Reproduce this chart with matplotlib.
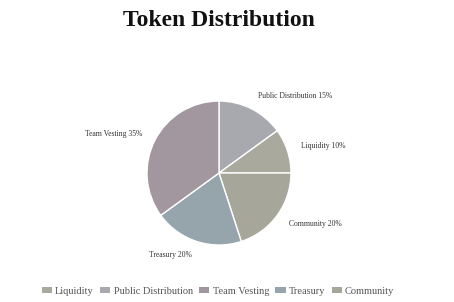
import matplotlib.pyplot as plt
import numpy as np
from matplotlib.patches import Patch

# slices in drawing order (clockwise from the top)
labels = ["Public Distribution", "Liquidity", "Community", "Treasury", "Team Vesting"]
shares = [15, 10, 20, 20, 35]
colors = ["#a8a9ae", "#a9a99d", "#a7a69a", "#95a5ab", "#a3979f"]

# legend order as shown under the chart
legend_order = ["Liquidity", "Public Distribution", "Team Vesting", "Treasury", "Community"]

W, H = 454, 302
fig = plt.figure(figsize=(W / 100, H / 100), dpi=100)
fig.patch.set_facecolor("white")

serif = ["Liberation Serif", "DejaVu Serif"]

# pie axes: centre (219,173) px, radius 72 px
cx, cy, r = 219, 173, 72
half = 1.5 * r
ax = fig.add_axes([(cx - half) / W, (H - cy - half) / H, 2 * half / W, 2 * half / H])

wedges, _ = ax.pie(shares, colors=colors, startangle=90, counterclock=False,
                   wedgeprops=dict(edgecolor="white", linewidth=1.0))
# pie() resets the limits, so set them afterwards
ax.set_xlim(-1.5, 1.5)
ax.set_ylim(-1.5, 1.5)
ax.set_aspect("equal")
ax.axis("off")

for w, lab, s in zip(wedges, labels, shares):
    ang = np.deg2rad((w.theta1 + w.theta2) / 2)
    x, y = 1.2 * np.cos(ang), 1.2 * np.sin(ang)
    ha = "left" if x > 0 else "right"
    ax.text(x, y, f"{lab} {s}%", ha=ha, va="center", fontsize=5.5,
            color="#333333", family=serif)

fig.text(cx / W, 1 - 21 / H, "Token Distribution", ha="center", va="center",
         fontsize=17, fontweight="bold", color="#111111", family=serif)

handles = [Patch(facecolor=colors[labels.index(n)], edgecolor="none") for n in legend_order]
leg = fig.legend(handles, legend_order, loc="center", bbox_to_anchor=(218 / W, 1 - 291 / H),
                 ncol=5, frameon=False, handlelength=1.0, handleheight=0.55,
                 handletextpad=0.3, columnspacing=0.6, borderaxespad=0,
                 prop=dict(family=serif, size=7.5))
for t in leg.get_texts():
    t.set_color("#555555")

fig.savefig("out.png", dpi=100, facecolor="white")
